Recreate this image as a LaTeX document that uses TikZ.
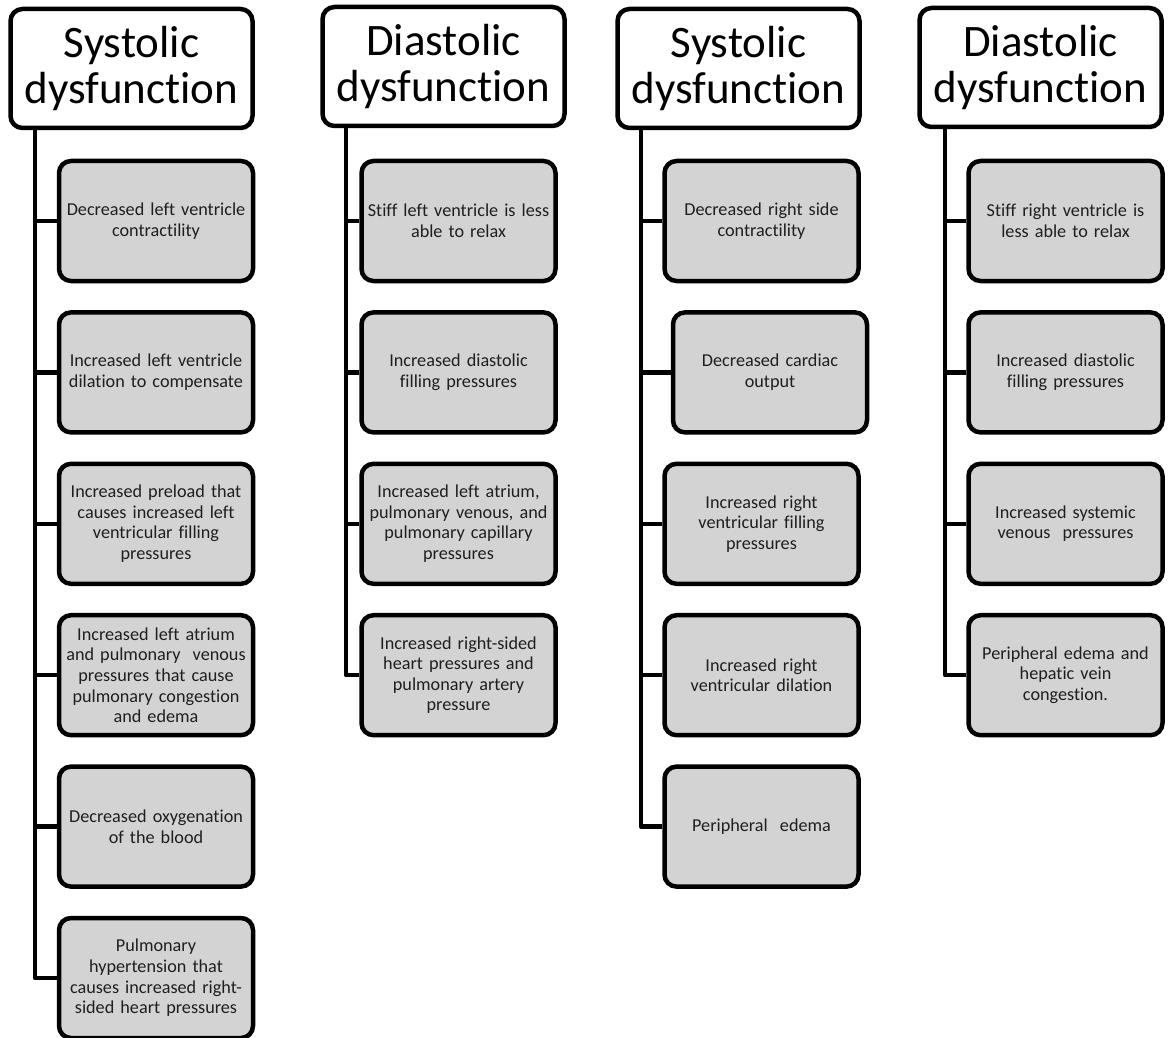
\documentclass[tikz,border=0pt]{standalone}
\usepackage{fontspec}
\setmainfont{Carlito}[Ligatures=NoCommon]
\usepackage{xcolor}
\definecolor{boxgray}{RGB}{211,211,211}

\begin{document}
\begin{tikzpicture}[x=1pt,y=-1pt,
    head/.style={draw=black,line width=4.5pt,rounded corners=12pt,fill=white,
      minimum width=242pt,minimum height=119pt,inner sep=0pt,align=center,
      font=\fontsize{45}{46}\selectfont},
    item/.style={draw=black,line width=4.5pt,rounded corners=12pt,fill=boxgray,
      minimum width=194pt,minimum height=120pt,inner sep=0pt,text width=194pt,
      align=center,text=black!88,font=\fontsize{18.2}{20.6}\selectfont},
    link/.style={black,line width=4.5pt,line join=round}]
  \useasboundingbox (0,0) rectangle (1168,1038);
  \def\gap{151.4}

  % column headers
  \node[head] (t1) at (131.5,68.5) {Systolic\\dysfunction};
  \node[head] (t2) at (443.5,66.5) {Diastolic\\dysfunction};
  \node[head] (t3) at (738.5,68.5) {Systolic\\dysfunction};
  \node[head] (t4) at (1040.5,67.5) {Diastolic\\dysfunction};

  \coordinate (s1) at (35,0);
  \coordinate (s2) at (346,0);
  \coordinate (s3) at (641,0);
  \coordinate (s4) at (945,0);

  % left side, systolic
  \foreach \txt [count=\i] in {
      {Decreased left ventricle\\contractility},
      {Increased left ventricle\\dilation to compensate},
      {Increased preload that\\causes increased left\\ventricular filling\\pressures},
      {Increased left atrium\\and pulmonary~ venous\\pressures that cause\\pulmonary congestion\\and edema},
      {Decreased oxygenation\\of the blood},
      {Pulmonary\\hypertension that\\causes increased right-\\sided heart pressures}}
    \node[item] (a\i) at (156,{221+\gap*(\i-1)}) {\txt};

  % left side, diastolic
  \foreach \txt [count=\i] in {
      {Stiff left ventricle is less\\able to relax},
      {Increased diastolic\\filling pressures},
      {Increased left atrium,\\pulmonary venous, and\\pulmonary capillary\\pressures},
      {Increased right-sided\\heart pressures and\\pulmonary artery\\pressure}}
    \node[item] (b\i) at (458.5,{221+\gap*(\i-1)}) {\txt};

  % right side, systolic
  \foreach \dx/\txt [count=\i] in {
      0/{Decreased right side\\contractility},
      8.5/{Decreased cardiac\\output},
      0/{Increased right\\ventricular filling\\pressures},
      0/{Increased right\\ventricular dilation},
      0/{Peripheral~ edema}}
    \node[item] (c\i) at ({761.5+\dx},{221+\gap*(\i-1)}) {\txt};

  % right side, diastolic
  \foreach \txt [count=\i] in {
      {Stiff right ventricle is\\less able to relax},
      {Increased diastolic\\filling pressures},
      {Increased systemic\\venous~ pressures},
      {Peripheral edema and\\hepatic vein\\congestion.}}
    \node[item] (d\i) at (1065.5,{221+\gap*(\i-1)}) {\txt};

  % spines
  \draw[link] (t1.south -| s1) |- (a6.west);
  \draw[link] (t2.south -| s2) |- (b4.west);
  \draw[link] (t3.south -| s3) |- (c5.west);
  \draw[link] (t4.south -| s4) |- (d4.west);
  \foreach \i in {1,...,5} \draw[link] (a\i.west) -- (a\i.west -| s1);
  \foreach \i in {1,...,3} \draw[link] (b\i.west) -- (b\i.west -| s2);
  \foreach \i in {1,...,4} \draw[link] (c\i.west) -- (c\i.west -| s3);
  \foreach \i in {1,...,3} \draw[link] (d\i.west) -- (d\i.west -| s4);
\end{tikzpicture}
\end{document}
